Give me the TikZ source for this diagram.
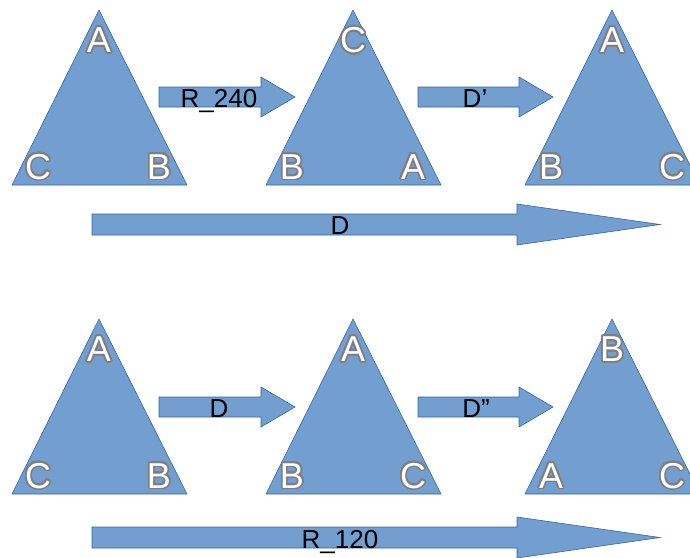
\documentclass[tikz,border=0pt]{standalone}
\usepackage{fontspec}
\setmainfont{Liberation Sans}
\usepackage{contour}
\contourlength{1.7pt}
\contournumber{32}
\definecolor{shapefill}{HTML}{729FCF}
\definecolor{shapeline}{HTML}{3465A4}
\definecolor{letteredge}{HTML}{7F7F7F}
\tikzset{
  blockfill/.style={fill=shapefill, draw=shapeline, line width=0.6pt, line join=miter},
  corner/.style={font=\fontsize{36}{36}\selectfont, text=white, inner sep=0pt},
  caption/.style={font=\fontsize{26}{26}\selectfont, text=black, inner sep=0pt, anchor=base},
  pics/tri/.style n args={3}{code={
    \path[blockfill] (0,0) coordinate (-apex) -- (88,175) coordinate (-right)
      -- (-87,175) coordinate (-left) -- cycle;
    \node[corner] (-top) at (0,31) {\contour{letteredge}{#1}};
    \node[corner] (-bl) at (-61,157.5) {\contour{letteredge}{#2}};
    \node[corner] (-br) at (60,157.5) {\contour{letteredge}{#3}};
  }},
}
\begin{document}
\begin{tikzpicture}[x=1pt,y=-1pt]
\useasboundingbox (0,0) rectangle (690,557);
\clip (0,0) rectangle (690,557);

% upper row: R_240 then D'
\pic (t1) at (99,10) {tri={A}{C}{B}};
\pic (t2) at (353,10) {tri={C}{B}{A}};
\pic (t3) at (612,10) {tri={A}{B}{C}};
\path[blockfill] (159,87) -- (261,87) -- (261,77) -- (295,97) -- (261,117) -- (261,107) -- (159,107) -- cycle;
\node[caption] (r240) at (219,107) {R\_240};
\path[blockfill] (418,87) -- (519,87) -- (519,77) -- (553,97) -- (519,117) -- (519,107) -- (418,107) -- cycle;
\node[caption] (dp) at (475,107) {D’};
\path[blockfill] (92,214) -- (517,214) -- (517,204) -- (660,224.5) -- (517,245) -- (517,235) -- (92,235) -- cycle;
\node[caption] (d) at (340,234) {D};

% lower row: D then D''
\pic (b1) at (99,319) {tri={A}{C}{B}};
\pic (b2) at (353,319) {tri={A}{B}{C}};
\pic (b3) at (612,319) {tri={B}{A}{C}};
\path[blockfill] (159,397) -- (261,397) -- (261,387) -- (295,407) -- (261,427) -- (261,417) -- (159,417) -- cycle;
\node[caption] (dl) at (219,417) {D};
\path[blockfill] (418,397) -- (519,397) -- (519,387) -- (553,407) -- (519,427) -- (519,417) -- (418,417) -- cycle;
\node[caption] (dpp) at (476,417) {D”};
\path[blockfill] (92,527) -- (517,527) -- (517,517) -- (660,537.5) -- (517,558) -- (517,548) -- (92,548) -- cycle;
\node[caption] (r120) at (340,548) {R\_120};
\end{tikzpicture}
\end{document}
